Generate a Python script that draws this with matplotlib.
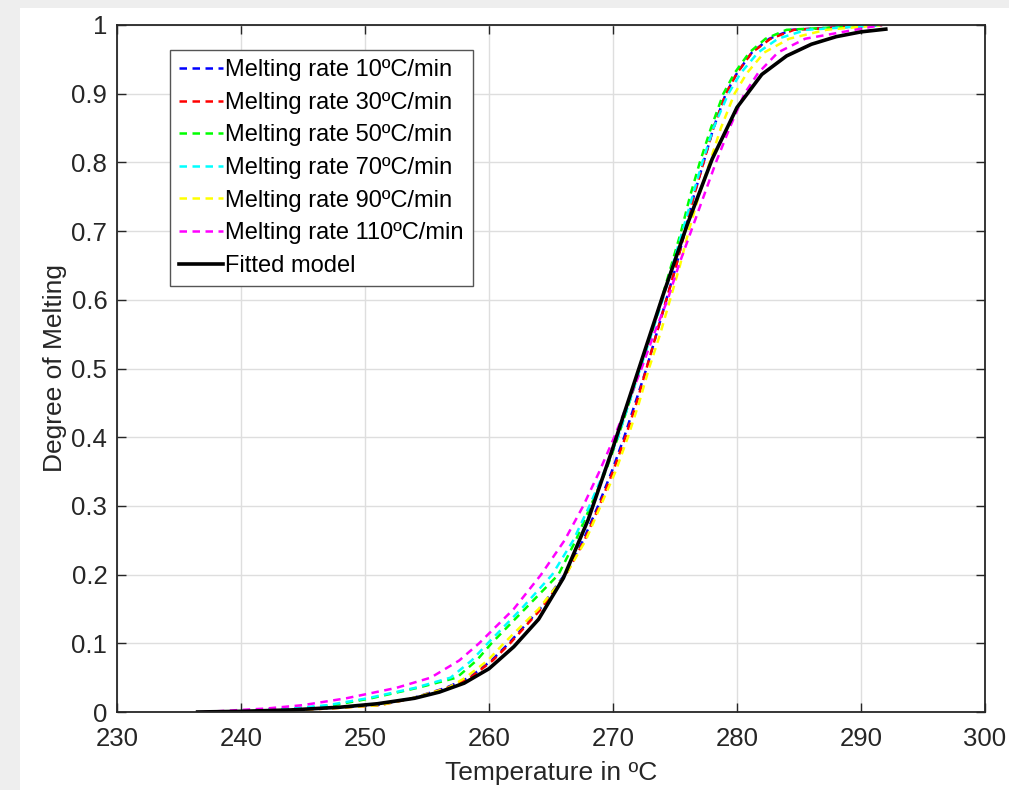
import numpy as np
import matplotlib
matplotlib.use('Agg')
import matplotlib.pyplot as plt
from matplotlib.patches import Rectangle

plt.rcParams['font.family'] = ['Liberation Sans', 'DejaVu Sans']

# degree of melting levels, and temperature at which each curve reaches them
levels = [0.0, 0.005, 0.01, 0.02, 0.035, 0.05, 0.075, 0.1, 0.15, 0.2, 0.25, 0.3, 0.35, 0.4, 0.45,
          0.5, 0.55, 0.6, 0.65, 0.7, 0.75, 0.8, 0.85, 0.9, 0.93, 0.96, 0.98, 0.993, 1.0]
t_10 = [238, 246.5, 251.0, 253.8, 256.5, 258.4, 260.2, 261.6, 264.1, 266.1, 267.6, 268.8, 269.9, 270.9, 271.8,
        272.7, 273.5, 274.3, 275.1, 275.8, 276.5, 277.3, 278.1, 279.1, 280.0, 281.2, 282.6, 284.4, 291.7]
t_30 = [240, 247.0, 251.2, 253.9, 256.6, 258.5, 260.3, 261.7, 264.2, 266.2, 267.7, 268.9, 270.0, 271.0, 271.9,
        272.7, 273.5, 274.3, 275.1, 275.8, 276.5, 277.3, 278.1, 279.1, 280.0, 281.2, 282.7, 284.6, 291.7]
t_50 = [238, 244.5, 247.5, 250.5, 254.2, 257.4, 259.0, 260.2, 262.9, 265.6, 267.0, 268.2, 269.4, 270.4, 271.3,
        272.2, 273.1, 273.9, 274.7, 275.5, 276.2, 277.0, 277.9, 278.9, 279.8, 281.0, 282.3, 284.0, 291.7]
t_70 = [238, 244.0, 247.0, 250.2, 254.0, 256.9, 258.6, 259.9, 262.6, 265.1, 266.8, 268.1, 269.3, 270.4, 271.3,
        272.2, 273.1, 274.0, 274.8, 275.6, 276.4, 277.2, 278.1, 279.3, 280.3, 281.7, 283.3, 285.6, 291.7]
t_90 = [240, 247.0, 251.2, 253.8, 256.7, 258.1, 259.9, 261.2, 264.0, 266.2, 267.8, 269.0, 270.2, 271.2, 272.1,
        272.9, 273.8, 274.6, 275.4, 276.1, 276.9, 277.8, 278.7, 279.8, 280.8, 282.2, 284.2, 287.2, 291.7]
t_110 = [237, 242.0, 245.0, 248.5, 252.5, 255.3, 257.6, 259.2, 262.0, 264.2, 266.1, 267.6, 268.9, 270.1, 271.2,
         272.3, 273.3, 274.4, 275.3, 276.3, 277.3, 278.3, 279.4, 280.6, 281.7, 283.3, 285.5, 289.5, 291.7]

rates = ['10', '30', '50', '70', '90', '110']
colors = ['#0000ff', '#ff0000', '#00ff00', '#00ffff', '#ffff00', '#ff00ff']
series = [t_10, t_30, t_50, t_70, t_90, t_110]

# fitted model
fit_t = [236.5, 240, 244, 248, 251, 254, 256, 258, 260, 262, 264, 266, 268, 270, 272, 274,
         276, 278, 280, 282, 284, 286, 288, 290, 292]
fit_v = [0.0, 0.001, 0.003, 0.007, 0.012, 0.02, 0.029, 0.042, 0.063, 0.095, 0.135, 0.195, 0.28, 0.385, 0.495, 0.605,
         0.71, 0.805, 0.88, 0.928, 0.955, 0.972, 0.983, 0.99, 0.994]

fig = plt.figure(figsize=(10.09, 7.9), dpi=100)
fig.patch.set_facecolor('#eeeeee')
fig.patches.append(Rectangle((20 / 1009, 0), 1, 1 - 8 / 790, transform=fig.transFigure,
                             facecolor='white', edgecolor='none', zorder=-10))
ax = fig.add_axes([117 / 1009, 78 / 790, 868 / 1009, 687 / 790])

for t, c, r in zip(series, colors, rates):
    ax.plot(t, levels, color=c, lw=1.8, dashes=(3, 2.2), label='Melting rate %sºC/min' % r)
ax.plot(fit_t, fit_v, color='black', lw=2.6, label='Fitted model')

ax.set_xlim(230, 300)
ax.set_ylim(0, 1)
ax.set_xticks(np.arange(230, 301, 10))
ax.set_yticks(np.arange(0, 1.01, 0.1))
ax.set_yticklabels(['0', '0.1', '0.2', '0.3', '0.4', '0.5', '0.6', '0.7', '0.8', '0.9', '1'])
ax.grid(True, color='#dedede', lw=1)
ax.set_axisbelow(True)
ax.tick_params(direction='in', top=True, right=True, labelsize=18.5, colors='#262626', length=6.5, width=1)
ax.tick_params(axis='x', pad=11)
ax.tick_params(axis='y', pad=7)
for s in ax.spines.values():
    s.set_color('#262626')
    s.set_linewidth(1.3)
ax.set_xlabel('Temperature in ºC', fontsize=19, color='#262626', labelpad=7)
ax.set_ylabel('Degree of Melting', fontsize=19, color='#262626', labelpad=3)

leg = ax.legend(loc='upper left', bbox_to_anchor=(0.061, 0.964), fontsize=17, fancybox=False,
                handlelength=1.85, handletextpad=0.1, labelspacing=0.45, borderpad=0.4,
                borderaxespad=0, framealpha=1)
leg.get_frame().set_edgecolor('#555555')
leg.get_frame().set_linewidth(1)

plt.savefig('out.png', dpi=100, facecolor=fig.get_facecolor())
